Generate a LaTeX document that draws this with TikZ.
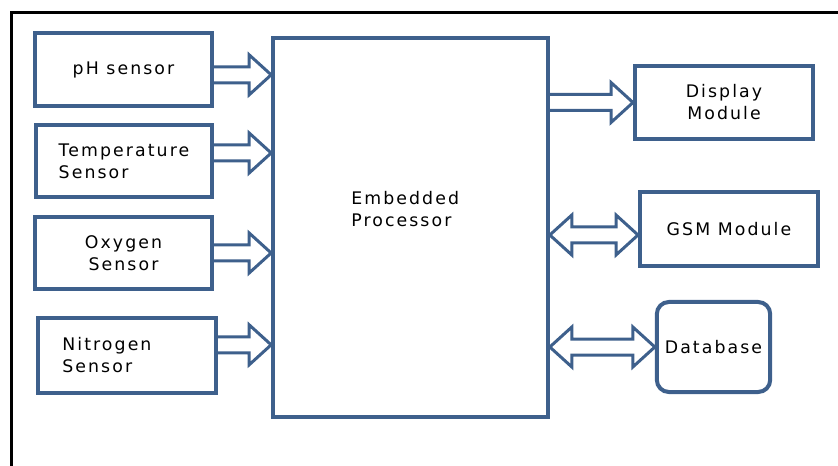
\documentclass[tikz,border=0pt]{standalone}
\usepackage{fontspec}
\newfontfamily\blockfont{DejaVu Sans}[LetterSpace=12]
\usepackage{tikz}
\usetikzlibrary{calc}
\definecolor{boxblue}{RGB}{62,96,140}

\begin{document}
\begin{tikzpicture}[
    x=0.75pt,
    y=-0.75pt,
    font=\blockfont\fontsize{13}{16.5}\selectfont,
    block/.style={
        rectangle,
        draw=boxblue,
        line width=3pt,
        fill=white,
        inner sep=0pt
    },
    store/.style={
        block,
        rounded corners=9pt
    },
    feed/.style={
        draw=boxblue,
        line width=2.25pt,
        to path={let \p1=(\tikztostart), \p2=(\tikztotarget) in
            (\x1,\y1+6pt) -- (\x2-16.5pt,\y1+6pt) -- (\x2-16.5pt,\y1+15pt) -- (\x2,\y1)
            -- (\x2-16.5pt,\y1-15pt) -- (\x2-16.5pt,\y1-6pt) -- (\x1,\y1-6pt)}
    },
    link/.style={
        draw=boxblue,
        line width=2.25pt,
        to path={let \p1=(\tikztostart), \p2=(\tikztotarget) in
            (\x1,\y1) -- (\x1+16.5pt,\y1+15pt) -- (\x1+16.5pt,\y1+6pt) -- (\x2-16.5pt,\y1+6pt)
            -- (\x2-16.5pt,\y1+15pt) -- (\x2,\y1) -- (\x2-16.5pt,\y1-15pt) -- (\x2-16.5pt,\y1-6pt)
            -- (\x1+16.5pt,\y1-6pt) -- (\x1+16.5pt,\y1-15pt) -- cycle}
    },
    frame/.style={
        draw=black,
        line width=2.25pt
    }
]
    \useasboundingbox (0,0) rectangle (838,466);
    \draw[frame] (11,470) -- (11,13) -- (842,13);

    % sensors
    \node[block, minimum width=133pt, minimum height=55pt] (ph) at (123.5,69.5) {pH sensor};
    \node[block, minimum width=132pt, minimum height=54pt, align=left] (temp) at (124,161) {Temperature\\Sensor};
    \node[block, minimum width=133pt, minimum height=54pt, align=center] (oxy) at (123.5,253) {Oxygen\\Sensor};
    \node[block, minimum width=133.5pt, minimum height=56pt, text width=97pt, align=left] (nitro) at (127,355.5) {Nitrogen\\Sensor};

    % processor
    \node[block, minimum width=206pt, minimum height=284pt,
          label={[align=left, yshift=13.5pt, xshift=-4pt]center:{Embedded\\Processor}}] (proc) at (410.5,227.5) {};

    % outputs
    \node[block, minimum width=133.5pt, minimum height=55pt, align=center] (disp) at (724,102.5) {Display\\Module};
    \node[block, minimum width=133.5pt, minimum height=55.5pt] (gsm) at (729,229) {GSM Module};
    \node[store, minimum width=85pt, minimum height=67.5pt] (db) at (713.5,347) {Database};

    \draw[feed] ([yshift=-4pt]ph.east) to (proc.west);
    \draw[feed] ([yshift=6pt]temp.east) to (proc.west);
    \draw[feed] (oxy.east) to (proc.west);
    \draw[feed] ([yshift=8pt]nitro.east) to (proc.west);
    \draw[feed] (disp.west -| proc.east) to (disp.west);
    \draw[link] ([yshift=-4.5pt]gsm.west -| proc.east) to (gsm.west);
    \draw[link] (db.west -| proc.east) to (db.west);
\end{tikzpicture}
\end{document}
